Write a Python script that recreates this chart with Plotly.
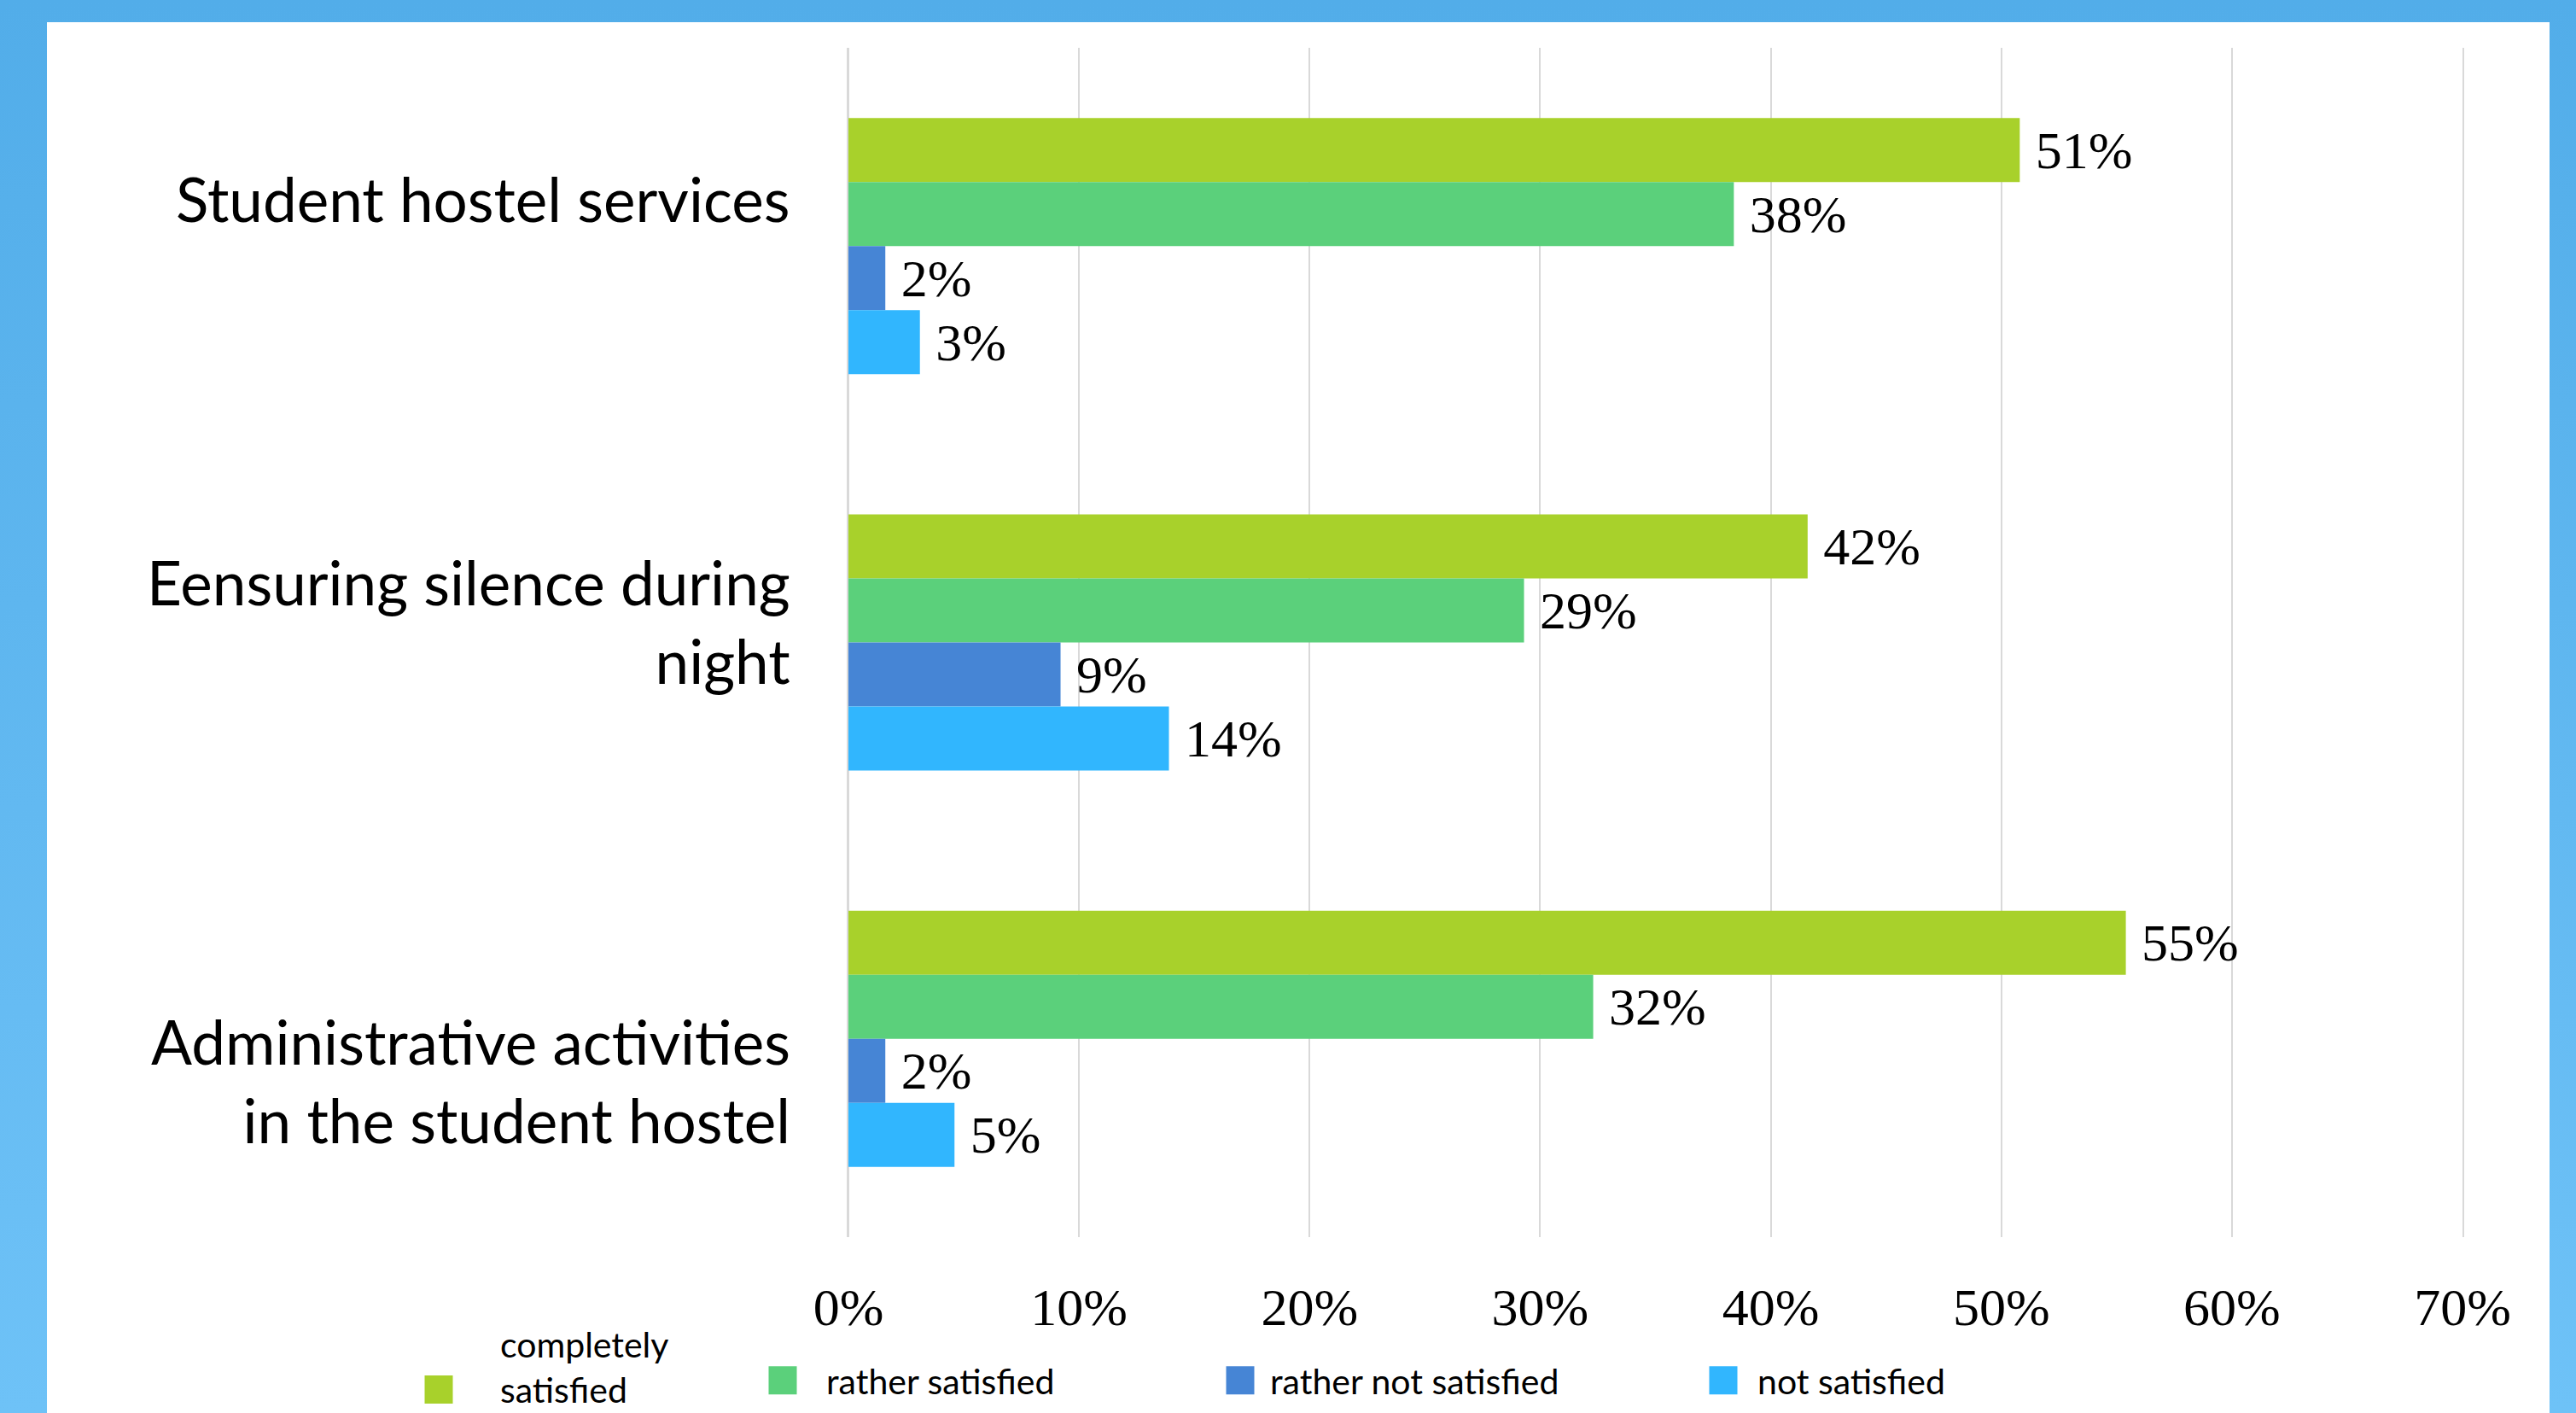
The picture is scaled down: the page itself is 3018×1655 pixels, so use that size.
import base64
import plotly.graph_objects as go

# ---------------- data ----------------
categories = [
    "Student hostel services",
    "Eensuring silence during night",
    "Administrative activities in the student hostel",
]
category_labels = [
    "Student hostel services",
    "Eensuring silence during<br>night",
    "Administrative activities<br>in the student hostel",
]
series_names = ["completely<br>satisfied", "rather satisfied", "rather not satisfied", "not satisfied"]

completely_satisfied = [0.508, 0.416, 0.554]
rather_satisfied = [0.384, 0.293, 0.323]
rather_not_satisfied = [0.016, 0.092, 0.016]
not_satisfied = [0.031, 0.139, 0.046]
series_values = [completely_satisfied, rather_satisfied, rather_not_satisfied, not_satisfied]

x_tick_values = [0.0, 0.1, 0.2, 0.3, 0.4, 0.5, 0.6, 0.7]
x_tick_labels = ["0%", "10%", "20%", "30%", "40%", "50%", "60%", "70%"]

# ---------------- style ----------------
colors = ["#A8D12B", "#5BD07B", "#4685D5", "#31B6FE"]
W, H = 3018, 1655
L, R, T, B = 994, 133, 56, 206
PW, PH = W - L - R, H - T - B

SANS = "Lato, 'Open Sans', sans-serif"
SERIF = "'Liberation Serif', 'Times New Roman', serif"
GRID = "#D9D9D9"


def px_x(px):
    return (px - L) / PW


def px_y(py):
    return (H - B - py) / PH


# one legend per series so each entry sits where the original does
legend_keys = ["legend", "legend2", "legend3", "legend4"]
legend_specs = [
    dict(center=514, width=134, y=1601, valign="bottom"),
    dict(center=917, width=92, y=1617, valign="middle"),
    dict(center=1453, width=60, y=1617, valign="middle"),
    dict(center=2019, width=70, y=1617, valign="middle"),
]

fig = go.Figure()
for name, vals, col, key in zip(series_names, series_values, colors, legend_keys):
    fig.add_trace(go.Bar(
        y=categories, x=vals, name=name, orientation="h",
        marker=dict(color=col, line=dict(width=0)),
        texttemplate="\u00a0%{x:.0%}", textposition="outside",
        textfont=dict(family=SERIF, size=62, color="#000000"),
        constraintext="none", cliponaxis=False,
        showlegend=True, legend=key, hoverinfo="skip",
    ))

legend_layouts = {}
for key, spec in zip(legend_keys, legend_specs):
    lx = spec["center"] - spec["width"] / 2 - 5
    legend_layouts[key] = dict(
        x=px_x(lx), xanchor="left", y=px_y(spec["y"]), yanchor="middle",
        orientation="h", itemwidth=spec["width"], valign=spec["valign"],
        bgcolor="rgba(0,0,0,0)", borderwidth=0,
        font=dict(family=SANS, size=41, color="#000000"),
        itemclick=False, itemdoubleclick=False, tracegroupgap=0,
    )

# category labels
label_yshift = [56, 25, -49]
annotations = []
for cat, lab, ys in zip(categories, category_labels, label_yshift):
    annotations.append(dict(
        x=0, xref="paper", y=cat, yref="y", text=lab, showarrow=False,
        xanchor="right", yanchor="middle", align="right",
        xshift=-66, yshift=ys,
        font=dict(family=SANS, size=71, color="#000000"),
    ))

# gradient frame background
svg = (
    '<svg xmlns="http://www.w3.org/2000/svg" width="100" height="100" '
    'viewBox="0 0 100 100" preserveAspectRatio="none">'
    '<defs><linearGradient id="g" x1="0" y1="0" x2="0" y2="1">'
    '<stop offset="0" stop-color="#52ADE9"/><stop offset="1" stop-color="#6EC2F7"/>'
    '</linearGradient></defs><rect width="100" height="100" fill="url(#g)"/></svg>'
)
svg_uri = "data:image/svg+xml;base64," + base64.b64encode(svg.encode()).decode()

fig.update_layout(
    width=W, height=H,
    margin=dict(l=L, r=R, t=T, b=B, pad=0, autoexpand=False),
    paper_bgcolor="#5FB7F0", plot_bgcolor="rgba(0,0,0,0)",
    barmode="group", bargap=0.354, bargroupgap=0,
    images=[dict(
        source=svg_uri, xref="paper", yref="paper",
        x=px_x(0), y=px_y(0), sizex=px_x(W) - px_x(0), sizey=px_y(0) - px_y(H),
        xanchor="left", yanchor="top", sizing="stretch", layer="below",
    )],
    shapes=[dict(
        type="rect", xref="paper", yref="paper",
        x0=px_x(55), x1=px_x(2987), y0=px_y(H + 10), y1=px_y(26),
        fillcolor="#FFFFFF", line=dict(width=0), layer="below",
    )],
    annotations=annotations,
    xaxis=dict(
        range=[0, 0.7], tickmode="array", tickvals=x_tick_values, ticktext=x_tick_labels,
        showgrid=True, gridcolor=GRID, gridwidth=2,
        zeroline=True, zerolinecolor=GRID, zerolinewidth=2,
        showline=False, ticks="", ticklabelstandoff=40,
        tickfont=dict(family=SERIF, size=62, color="#000000"),
        fixedrange=True,
    ),
    yaxis=dict(
        categoryorder="array", categoryarray=categories, autorange="reversed",
        showticklabels=False, showgrid=False, zeroline=False,
        showline=True, linecolor=GRID, linewidth=2, mirror=True,
        ticks="", fixedrange=True,
    ),
    showlegend=True,
    **legend_layouts,
)

post_script = """
document.documentElement.style.margin = '0';
document.body.style.margin = '0';
document.body.style.overflow = 'hidden';
var gd = document.getElementById('{plot_id}');
function fixLegendSymbols(){
  gd.querySelectorAll('g.legendpoints path').forEach(function(p){
    var t = p.getAttribute('transform') || '';
    if (t.indexOf('scale') < 0) { p.setAttribute('transform', t + ' scale(2.75)'); }
  });
}
fixLegendSymbols();
gd.on('plotly_afterplot', fixLegendSymbols);
"""

fig.write_html("out.html", post_script=post_script, config={"displayModeBar": False})
